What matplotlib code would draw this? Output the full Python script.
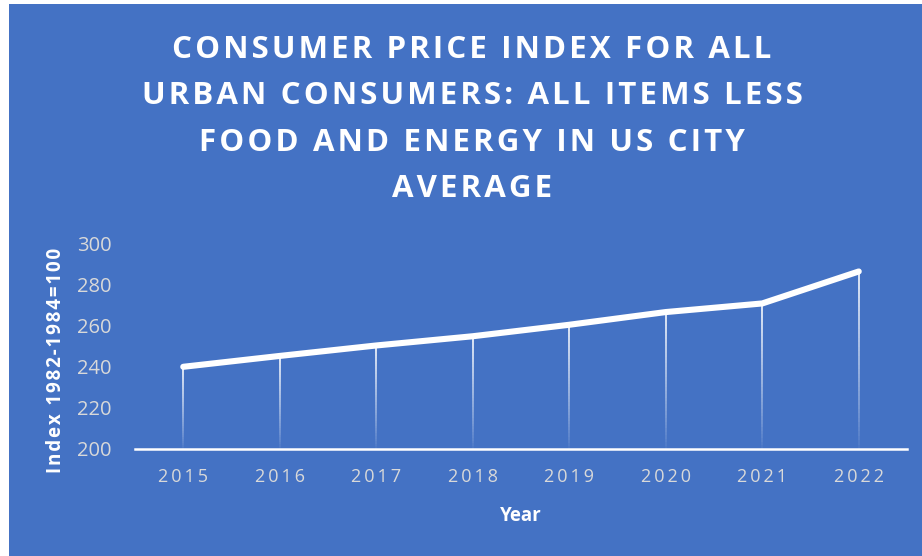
import numpy as np
import matplotlib.pyplot as plt
from matplotlib.patches import Rectangle

years = ['2015', '2016', '2017', '2018', '2019', '2020', '2021', '2022']
cpi = [240.1, 245.4, 250.5, 255.0, 260.6, 266.8, 271.0, 286.6]

title_lines = ['CONSUMER PRICE INDEX FOR ALL',
               'URBAN CONSUMERS: ALL ITEMS LESS',
               'FOOD AND ENERGY IN US CITY',
               'AVERAGE']

BLUE = '#4472C4'
W, H = 922, 556
FAM = ['Open Sans', 'DejaVu Sans']


def spaced(s, sep='\u2009'):
    # fake letter spacing
    return sep.join(s)


fig = plt.figure(figsize=(W / 100, H / 100), dpi=100)
fig.patch.set_facecolor('white')
fig.add_artist(Rectangle((9 / W, 0), 1 - 9 / W, 1 - 4 / H, transform=fig.transFigure,
                         facecolor=BLUE, edgecolor='none', zorder=0))

ax = fig.add_axes([135 / W, 1 - 449 / H, (907 - 135) / W, (449 - 244) / H])
ax.set_facecolor('none')

x = np.arange(len(years))

# drop lines, fading towards the axis
n = 40
for xi, v in zip(x, cpi):
    ys = np.linspace(v, 200, n + 1)
    for k in range(n):
        a = 0.9 * (1 - k / n) ** 0.8
        ax.plot([xi, xi], [ys[k], ys[k + 1]], color='white', alpha=a, lw=1.3,
                solid_capstyle='butt', zorder=2)

ax.plot(x, cpi, color='white', lw=4.4, solid_capstyle='round',
        solid_joinstyle='round', zorder=3)

ax.set_xlim(-0.5, len(years) - 0.5)
ax.set_ylim(200, 300)
ax.set_yticks(range(200, 301, 20))
ax.set_xticks(x)
ax.set_xticklabels([spaced(y) for y in years])

for s in ['top', 'right', 'left']:
    ax.spines[s].set_visible(False)
ax.spines['bottom'].set_color('white')
ax.spines['bottom'].set_linewidth(1.8)
ax.tick_params(axis='both', length=0, colors='#D9D9D9')
ax.tick_params(axis='x', pad=14)
ax.tick_params(axis='y', pad=17)
for lab in ax.get_xticklabels():
    lab.set_fontfamily(FAM)
    lab.set_fontsize(13)
for lab in ax.get_yticklabels():
    lab.set_fontfamily(FAM)
    lab.set_fontsize(14.5)

ax.set_xlabel('Year', color='white', fontsize=13.5, fontweight='bold',
              fontfamily=FAM, labelpad=14)
ax.set_ylabel(spaced('Index 1982-1984=100', '\u200a'), color='white', fontsize=13.5,
              fontweight='bold', fontfamily=FAM)
ax.yaxis.set_label_coords(-0.09, (449 - 360) / 205)

for i, line in enumerate(title_lines):
    fig.text(472 / W, 1 - (50 + 46.3 * i) / H, spaced(line, '\u200a'), ha='center',
             va='center', color='white', fontsize=22.5, fontweight='bold', fontfamily=FAM)

fig.savefig('out.png', dpi=100, facecolor=fig.get_facecolor())
